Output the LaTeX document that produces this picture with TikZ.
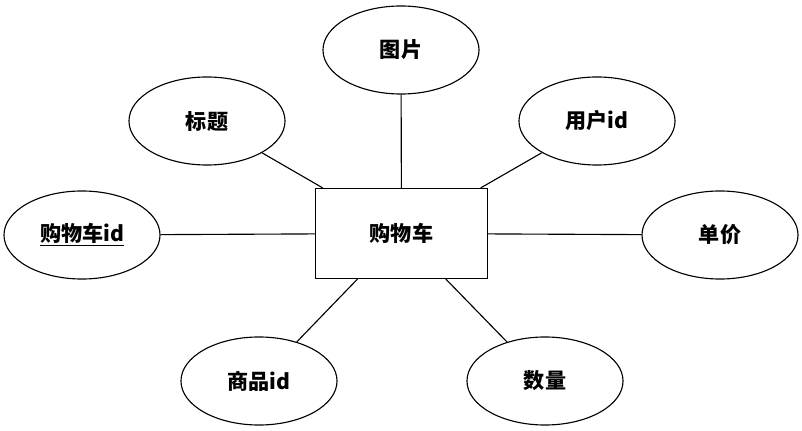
\documentclass[tikz,border=0pt]{standalone}
\usepackage{fontspec}
\setmainfont{Liberation Serif}
\newfontfamily\cjk{Noto Sans CJK SC}
\usetikzlibrary{shapes.geometric}
\tikzset{
  attr/.style={draw, ellipse, thick, minimum width=3.9cm, minimum height=2.2cm, inner sep=0pt, font=\cjk\bfseries\fontsize{15}{18}\selectfont},
  ent/.style={draw, rectangle, thick, minimum width=4.3cm, minimum height=2.25cm, font=\cjk\bfseries\fontsize{15}{18}\selectfont},
  link/.style={thick}
}
\begin{document}
\begin{tikzpicture}[x=0.025cm, y=-0.025cm]
    \useasboundingbox (0,0) rectangle (802,431);

    % Entity
    \node[ent] (cart) at (401.5,233.5) {购物车};

    % Attributes
    \node[attr] (img) at (401,50) {图片};
    \node[attr] (title) at (207,121) {标题};
    \node[attr] (user) at (597,121) {用户id};
    \node[attr] (cartid) at (82,235) {\underline{购物车id}};
    \node[attr] (price) at (720,235) {单价};
    \node[attr] (goods) at (259,381) {商品id};
    \node[attr] (num) at (545,381) {数量};

    % Connectors
    \foreach \a in {img, title, user, cartid, price, goods, num}
        \draw[link] (cart) -- (\a);

\end{tikzpicture}
\end{document}
